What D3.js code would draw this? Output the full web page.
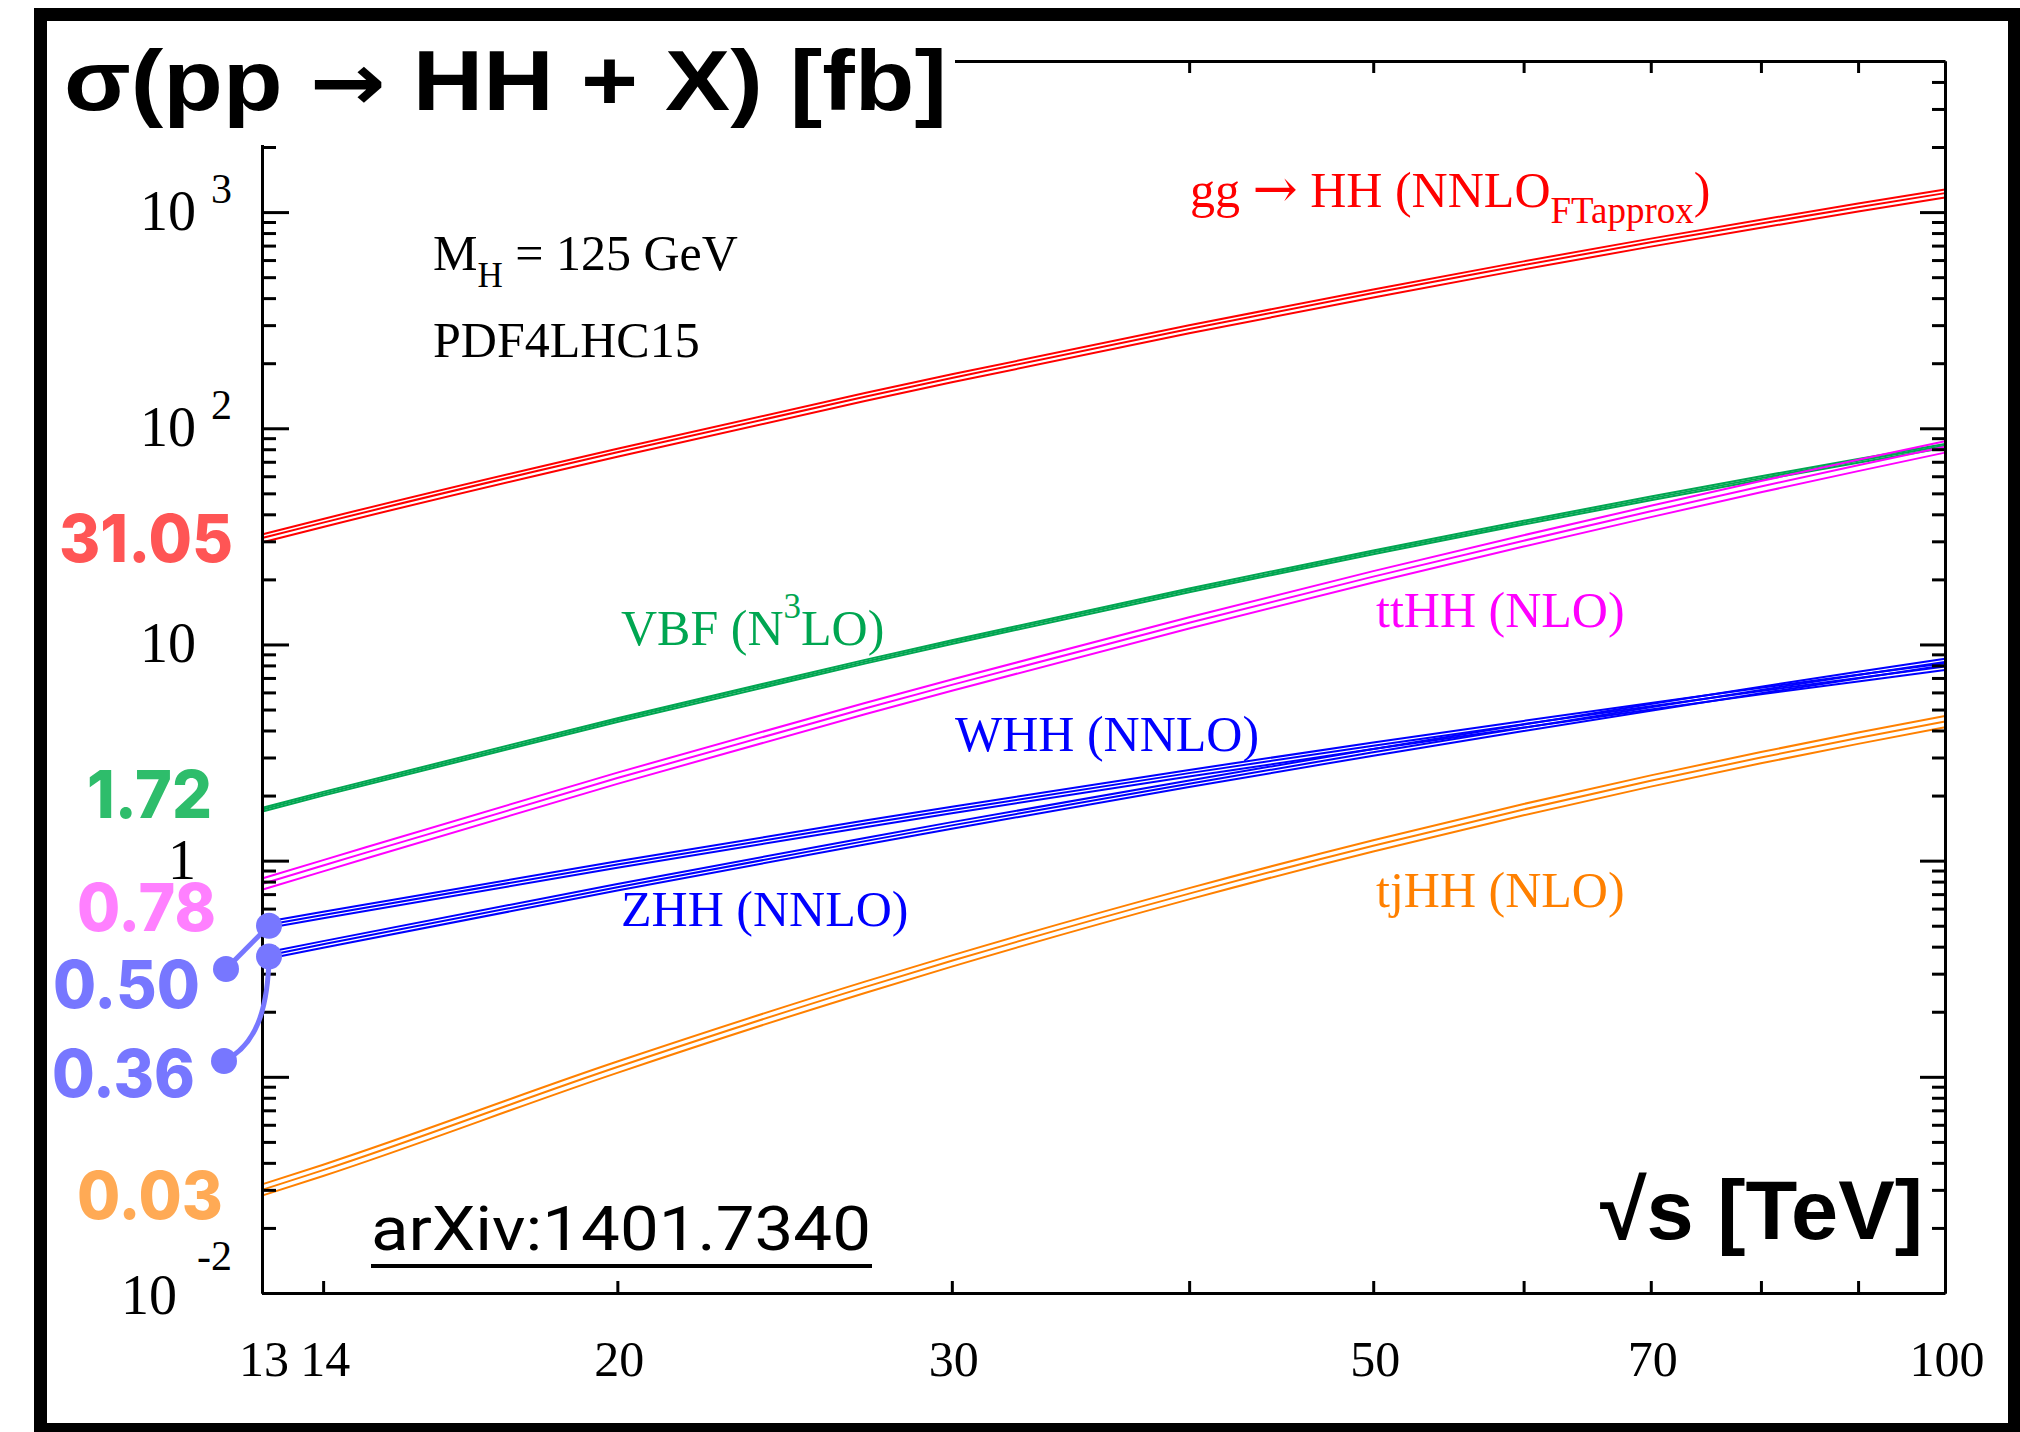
<!DOCTYPE html>
<html>
<head>
<meta charset="utf-8">
<script src="https://cdn.jsdelivr.net/npm/d3@7"></script>
<style>
  body { margin: 0; background: #fff; }
  svg { display: block; }
</style>
</head>
<body>
<svg id="chart" width="2020" height="1432"></svg>
<script>
// Centre-of-mass energies (TeV) at which the cross sections are given
const energies = [13, 14, 20, 27, 30, 40, 50, 60, 70, 80, 90, 100];

// Central cross sections in fb
const ggHH = [31.05, 36.6, 77.4, 139.9, 170.8, 288, 422, 569, 725, 886, 1053, 1224];
const vbfHH = [1.72, 2.04, 4.47, 8.32, 10.26, 17.8, 26.7, 36.6, 47.4, 58.8, 70.7, 83];
const ttHH = [0.78, 0.949, 2.41, 5.06, 6.50, 12.6, 20.6, 30.2, 41.3, 53.8, 67.4, 82.1];
const WHH = [0.50, 0.561, 0.960, 1.48, 1.716, 2.54, 3.40, 4.28, 5.18, 6.09, 6.99, 7.9];
const ZHH = [0.36, 0.410, 0.754, 1.231, 1.456, 2.27, 3.17, 4.12, 5.12, 6.16, 7.22, 8.3];
const tjHH = [0.03, 0.0370, 0.111, 0.260, 0.344, 0.704, 1.172, 1.725, 2.34, 3.00, 3.69, 4.4];

// Relative theory uncertainty [up, down] for the outer lines of each band
const ggHHUnc = [0.04, 0.045];
const vbfHHUnc = [0.02, 0.02];
const ttHHUnc = [0.06, 0.06];
const WHHUnc = [0.035, 0.035];
const ZHHUnc = [0.035, 0.035];
const tjHHUnc = [0.06, 0.06];

// Axis ticks and labels
const xMinorTicks = [14, 20, 30, 40, 50, 60, 70, 80, 90];
const xTickLabels = [13, 14, 20, 30, 50, 70, 100];
const yMajorTicks = [0.01, 0.1, 1, 10, 100, 1000];
const yTickLabels = [1000, 100, 10, 1, 0.01];

const svg = d3.select("#chart");

const x = d3.scaleLog().domain([13, 100]).range([262, 1945]);
const y = d3.scaleLog().domain([0.01, 5000]).range([1293, 61]);

const serif = "'Liberation Serif', 'Times New Roman', serif";
const sansBold = "'Liberation Sans', Arial, sans-serif";

// ---- cross-section bands: upper, central and lower line per process
const processes = [
  { values: ggHH, unc: ggHHUnc, color: "#ff0000" },
  { values: vbfHH, unc: vbfHHUnc, color: "#00a651" },
  { values: ttHH, unc: ttHHUnc, color: "#ff00ff" },
  { values: WHH, unc: WHHUnc, color: "#0000ff" },
  { values: ZHH, unc: ZHHUnc, color: "#0000ff" },
  { values: tjHH, unc: tjHHUnc, color: "#ff8000" }
];

const plot = svg.append("g");
processes.forEach(p => {
  const factors = [1 + p.unc[0], 1, 1 - p.unc[1]];
  factors.forEach(f => {
    const line = d3.line()
      .x((d, i) => x(energies[i]))
      .y(d => y(d * f))
      .curve(d3.curveMonotoneX);
    plot.append("path")
      .attr("d", line(p.values))
      .attr("fill", "none")
      .attr("stroke", p.color)
      .attr("stroke-width", 2);
  });
});

// ---- frame axes
const yMinorTicks = y.ticks().filter(v => !yMajorTicks.some(m => Math.abs(m - v) / m < 1e-9));

function styleAxis(g) {
  g.selectAll(".domain").attr("stroke", "#000").attr("stroke-width", 3);
  g.selectAll(".tick line").attr("stroke", "#000").attr("stroke-width", 3);
  g.selectAll(".tick text").remove();
}

svg.append("g").attr("transform", "translate(0,1293)")
  .call(d3.axisBottom(x).tickValues(xMinorTicks).tickSize(-12).tickSizeOuter(0).tickFormat(""))
  .call(styleAxis);
svg.append("g").attr("transform", "translate(0,61)")
  .call(d3.axisTop(x).tickValues(xMinorTicks).tickSize(-12).tickSizeOuter(0).tickFormat(""))
  .call(styleAxis);

svg.append("g").attr("transform", "translate(262,0)")
  .call(d3.axisLeft(y).tickValues(yMajorTicks).tickSize(-27).tickSizeOuter(0).tickFormat(""))
  .call(styleAxis);
svg.append("g").attr("transform", "translate(262,0)")
  .call(d3.axisLeft(y).tickValues(yMinorTicks).tickSize(-14).tickSizeOuter(0).tickFormat(""))
  .call(styleAxis);
svg.append("g").attr("transform", "translate(1945,0)")
  .call(d3.axisRight(y).tickValues(yMajorTicks).tickSize(-25).tickSizeOuter(0).tickFormat(""))
  .call(styleAxis);
svg.append("g").attr("transform", "translate(1945,0)")
  .call(d3.axisRight(y).tickValues(yMinorTicks).tickSize(-13).tickSizeOuter(0).tickFormat(""))
  .call(styleAxis);

// ---- tick labels
const xLab = svg.append("g")
  .attr("font-family", serif).attr("font-size", 50).attr("fill", "#000")
  .attr("text-anchor", "middle");
xTickLabels.forEach(v => {
  xLab.append("text").attr("x", x(v) + 2).attr("y", 1376).text(v);
});

const yLab = svg.append("g")
  .attr("font-family", serif).attr("font-size", 56).attr("fill", "#000")
  .attr("text-anchor", "end");
yTickLabels.forEach(v => {
  const e = Math.round(Math.log10(v));
  const yy = y(v);
  if (e === 0 || e === 1) {
    yLab.append("text").attr("x", 196).attr("y", yy + 18).text(v);
  } else {
    const neg = e < 0;
    const t = yLab.append("text").attr("x", 232).attr("y", yy + (neg ? 21 : 18));
    t.append("tspan").text("10");
    t.append("tspan").attr("dx", neg ? 20 : 15).attr("dy", neg ? -44 : -27)
      .attr("font-size", 42).text(e < 0 ? "-" + Math.abs(e) : e);
  }
});

// ---- process labels
function label(px, py, color) {
  return svg.append("text").attr("x", px).attr("y", py)
    .attr("font-family", serif).attr("font-size", 50).attr("fill", color);
}
let t = label(1190, 207, "#ff0000");
t.append("tspan").text("gg ");
t.append("tspan").attr("font-family", "'DejaVu Serif', serif").attr("font-size", 54).text("\u2192");
t.append("tspan").text(" HH (NNLO");
t.append("tspan").attr("dy", 16).attr("font-size", 37).text("FTapprox");
t.append("tspan").attr("dy", -16).text(")");

t = label(621, 645, "#00a651");
t.append("tspan").text("VBF (N");
t.append("tspan").attr("dy", -27).attr("font-size", 35).text("3");
t.append("tspan").attr("dy", 27).text("LO)");

label(1376, 627, "#ff00ff").text("ttHH (NLO)");
label(955, 751, "#0000ff").text("WHH (NNLO)");
label(621, 926, "#0000ff").text("ZHH (NNLO)");
label(1376, 907, "#ff8000").text("tjHH (NLO)");

t = label(433, 270, "#000");
t.append("tspan").text("M");
t.append("tspan").attr("dy", 17).attr("font-size", 35).text("H");
t.append("tspan").attr("dy", -17).text(" = 125 GeV");
label(433, 357, "#000").text("PDF4LHC15");

// ---- title box covering the top-left corner of the frame
svg.append("rect").attr("x", 47).attr("y", 21).attr("width", 908).attr("height", 124).attr("fill", "#fff");
const title = svg.append("text").attr("x", 64).attr("y", 110)
  .attr("font-family", sansBold).attr("font-weight", 700).attr("font-size", 86)
  .attr("textLength", 883).attr("lengthAdjust", "spacingAndGlyphs");
title.append("tspan").text("\u03C3(pp ");
title.append("tspan").attr("font-family", "'DejaVu Sans', sans-serif").attr("font-size", 80).text("\u2192");
title.append("tspan").text(" HH + X) [fb]");

svg.append("text").attr("x", 1600).attr("y", 1239)
  .attr("font-family", sansBold).attr("font-weight", 700).attr("font-size", 84)
  .attr("textLength", 323).attr("lengthAdjust", "spacingAndGlyphs")
  .text("\u221As [TeV]");

svg.append("text").attr("x", 371).attr("y", 1250)
  .attr("font-family", "Roboto, 'Open Sans', sans-serif").attr("font-size", 62)
  .attr("textLength", 500).attr("lengthAdjust", "spacingAndGlyphs")
  .attr("fill", "#000").text("arXiv:1401.7340");
svg.append("rect").attr("x", 371).attr("y", 1264).attr("width", 501).attr("height", 4).attr("fill", "#000");

// ---- 13 TeV values called out at the left
const fmt = d3.format(".2f");
const callouts = [
  { values: ggHH, color: "#ff5555", left: 59, base: 562, width: 174 },
  { values: vbfHH, color: "#2ebd6b", left: 87, base: 818, width: 125 },
  { values: ttHH, color: "#ff80ff", left: 77, base: 931, width: 139 },
  { values: WHH, color: "#7777ff", left: 53, base: 1008, width: 147 },
  { values: ZHH, color: "#7777ff", left: 52, base: 1097, width: 143 },
  { values: tjHH, color: "#ffaa55", left: 77, base: 1219, width: 146 }
];
callouts.forEach(c => {
  svg.append("text").attr("x", c.left).attr("y", c.base)
    .attr("font-family", "Inter, 'Open Sans', sans-serif").attr("font-weight", 800)
    .attr("font-size", 66).attr("fill", c.color)
    .attr("textLength", c.width).attr("lengthAdjust", "spacingAndGlyphs")
    .text(fmt(c.values[0]));
});

// connectors from the WHH / ZHH labels to the start of their lines
const blue = "#7777ff";
const wStart = [x(13) + 7, y(WHH[0])];
const zStart = [x(13) + 7, y(ZHH[0])];
const wLab = [226, 969];
const zLab = [224, 1061];
svg.append("line").attr("x1", wLab[0]).attr("y1", wLab[1]).attr("x2", wStart[0]).attr("y2", wStart[1])
  .attr("stroke", blue).attr("stroke-width", 5);
svg.append("path")
  .attr("d", `M${zStart[0]},${zStart[1]} C${zStart[0] - 1},${zStart[1] + 55} ${zStart[0] - 14},${zLab[1] - 15} ${zLab[0]},${zLab[1]}`)
  .attr("fill", "none").attr("stroke", blue).attr("stroke-width", 5);
[wStart, zStart, wLab, zLab].forEach(p => {
  svg.append("circle").attr("cx", p[0]).attr("cy", p[1]).attr("r", 13).attr("fill", blue);
});

// ---- outer border
svg.append("rect").attr("x", 40.5).attr("y", 14.5).attr("width", 1974).attr("height", 1415)
  .attr("fill", "none").attr("stroke", "#000").attr("stroke-width", 13);
</script>
</body>
</html>
